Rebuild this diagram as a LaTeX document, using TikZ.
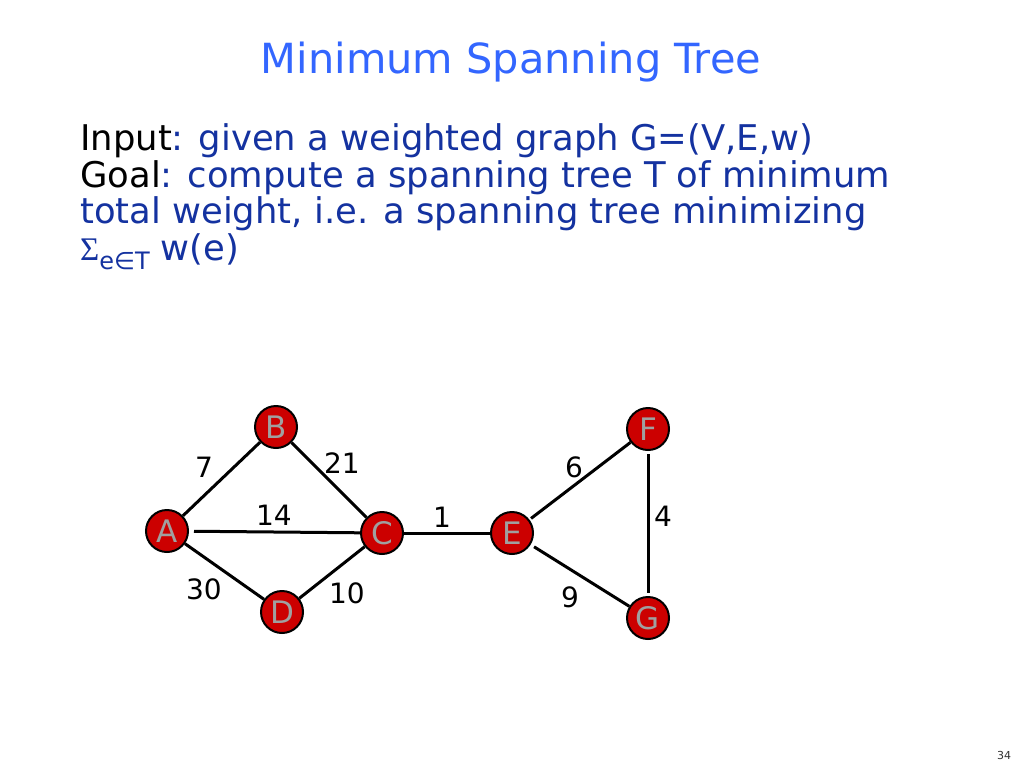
\documentclass[tikz,border=0pt]{standalone}
\usepackage{fontspec}
\setmainfont{DejaVu Sans}
\newfontfamily\sigmafont{Liberation Serif}
\begin{document}
\begin{tikzpicture}[x=1pt,y=-1pt]
\definecolor{titleblue}{RGB}{51,102,255}
\definecolor{bodyblue}{RGB}{20,50,160}
\definecolor{nodered}{RGB}{204,0,0}
\definecolor{lettergray}{RGB}{160,160,160}
\tikzset{
  vert/.style={circle,draw=black,line width=2pt,fill=nodered,minimum size=42pt,inner sep=0pt,
    text=lettergray,font=\fontsize{31}{31}\selectfont},
  edge/.style={line width=3pt,black},
  wlabel/.style={font=\fontsize{28}{28}\selectfont,text=black,inner sep=0pt},
  bodyline/.style={anchor=base west,inner sep=0pt,font=\fontsize{35.4}{36}\selectfont,text=bodyblue}
}
\useasboundingbox[fill=white] (0,0) rectangle (1024,768);
\node[font=\fontsize{41.5}{41.5}\selectfont,text=titleblue,anchor=base,inner sep=0pt] (title) at (511,73) {Minimum Spanning Tree};
\node[bodyline] (l1) at (80,150) {\textcolor{black}{Input}: given a weighted graph G=(V,E,w)};
\node[bodyline] (l2) at (80,187) {\textcolor{black}{Goal}: compute a spanning tree T of minimum};
\node[bodyline] (l3) at (80,223) {total weight, i.e. a spanning tree minimizing};
\node[bodyline] (l4) at (80,260) {{\sigmafont\fontsize{33}{33}\selectfont Σ}\raisebox{-9pt}{\fontsize{24}{24}\selectfont e∈T} w(e)};
\node[vert] (A) at (167,531) {A};
\node[vert] (B) at (276,427) {B};
\node[vert] (C) at (382,533) {C};
\node[vert] (D) at (282,612) {D};
\node[vert] (E) at (512,533) {E};
\node[vert] (F) at (648,429) {F};
\node[vert] (G) at (648,618) {G};
\draw[edge] (A) -- (B);
\draw[edge,shorten <=5pt] (A) -- (C);
\draw[edge] (A) -- (D);
\draw[edge] (B) -- (C);
\draw[edge] (C) -- (D);
\draw[edge] (C) -- (E);
\draw[edge,shorten <=2pt] (E) -- (F);
\draw[edge,shorten <=4pt] (E) -- (G);
\draw[edge,shorten <=3pt,shorten >=3pt] (F) -- (G);
\node[wlabel] (w7) at (204,467) {7};
\node[wlabel] (w21) at (342,463) {21};
\node[wlabel] (w14) at (274,515) {14};
\node[wlabel] (w30) at (204,589) {30};
\node[wlabel] (w10) at (347,593) {10};
\node[wlabel] (w1) at (442,517) {1};
\node[wlabel] (w6) at (574,467) {6};
\node[wlabel] (w4) at (663,516) {4};
\node[wlabel] (w9) at (570,597) {9};
\node[font=\fontsize{11}{11}\selectfont,text=black!80,inner sep=0pt] (pg) at (1004,755) {34};
\end{tikzpicture}
\end{document}
